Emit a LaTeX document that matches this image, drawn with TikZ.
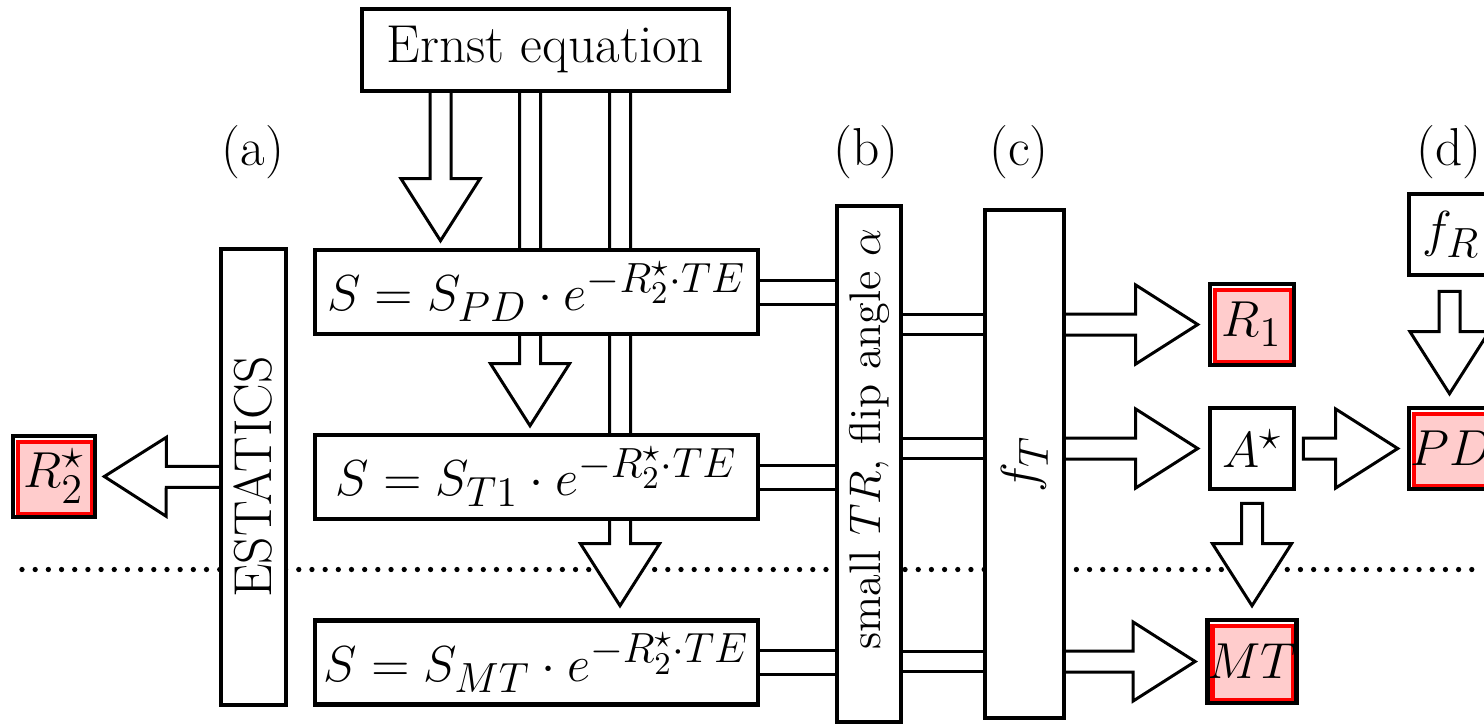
\RequirePackage{fix-cm}
\documentclass[tikz,border=0pt]{standalone}
\usepackage{amsmath}
\usepackage{amssymb}
\usepackage{graphicx}
\usepackage{tikz}
\usetikzlibrary{calc}
\definecolor{resfill}{HTML}{FFCCCC}
\definecolor{resline}{HTML}{FF0000}
\DeclareMathSizes{15.2}{14.4}{12}{9}
\pgfdeclarelayer{back}
\pgfdeclarelayer{mid}
\pgfsetlayers{back,mid,main}
\newcommand{\mainsize}{\fontsize{15.2}{18}\selectfont}
\newcommand{\shaftw}{0.105cm}
\newcommand{\headw}{0.395cm}
\newcommand{\headl}{0.62cm}
% hollow block arrow from #1 to the tip #2
\newcommand{\fatarrow}[2]{%
  \path[fatarr] let \p1=(#1), \p2=(#2), \n1={veclen(\x2-\x1,\y2-\y1)}, \n2={atan2(\y2-\y1,\x2-\x1)} in
    [shift={(\p1)}, rotate=\n2] (0pt,-\shaftw) -- (\n1-\headl,-\shaftw) -- (\n1-\headl,-\headw) -- (\n1,0pt)
    -- (\n1-\headl,\headw) -- (\n1-\headl,\shaftw) -- (0pt,\shaftw) -- cycle;}
% hollow pipe (no head) from #1 to #2, half width #3
\newcommand{\fatpipe}[3]{%
  \path[fatarr] let \p1=(#1), \p2=(#2), \n1={veclen(\x2-\x1,\y2-\y1)}, \n2={atan2(\y2-\y1,\x2-\x1)} in
    [shift={(\p1)}, rotate=\n2] (0pt,-#3) -- (\n1,-#3) -- (\n1,#3) -- (0pt,#3) -- cycle;}
\tikzset{
  box/.style={draw, line width=1.3pt, fill=white, inner sep=0pt, font=\mainsize},
  result/.style={box, path picture={\draw[resline, fill=resfill, line width=1.4pt]
      ($(path picture bounding box.south west)+(0.05,0.03)$) rectangle
      ($(path picture bounding box.north east)+(-0.03,-0.06)$);}},
  fatarr/.style={draw, fill=white, line width=0.85pt, line join=miter},
  lbl/.style={font=\mainsize, inner sep=0pt},
  dotline/.style={line width=1.5pt, line cap=round, dash pattern=on 0pt off 3.75pt}
}

\begin{document}
\begin{tikzpicture}
  \useasboundingbox (0,0) rectangle (14.84,7.26);
  % blocks
  \node[box, minimum width=3.67cm, minimum height=0.82cm] (ernst) at (5.455,6.76) {Ernst equation};
  \node[box, minimum width=0.65cm, minimum height=4.56cm] (estatics) at (2.535,2.49) {\rotatebox{90}{ESTATICS}};
  \node[box, minimum width=4.43cm, minimum height=0.84cm] (spd) at (5.365,4.34) {$S=S_{PD}\cdot e^{-R_2^{\star}\cdot TE}$};
  \node[box, minimum width=4.43cm, minimum height=0.84cm] (st1) at (5.365,2.49) {$S=S_{T1}\cdot e^{-R_2^{\star}\cdot TE}$};
  \node[box, minimum width=4.43cm, minimum height=0.84cm] (smt) at (5.365,0.635) {$S=S_{MT}\cdot e^{-R_2^{\star}\cdot TE}$};
  \node[box, minimum width=0.64cm, minimum height=5.16cm] (flip) at (8.69,2.62)
    {\rotatebox{90}{\fontsize{12.6}{15}\selectfont\hspace*{0.5cm}small $TR$, flip angle $\alpha$}};
  \node[box, minimum width=0.79cm, minimum height=5.08cm] (ft) at (10.245,2.62) {\rotatebox{90}{$f_T$}};
  \node[result, minimum width=0.84cm, minimum height=0.81cm] (r1) at (12.52,4.015) {$R_1$};
  \node[box, minimum width=0.84cm, minimum height=0.81cm] (astar) at (12.52,2.775) {$A^{\star}$};
  \node[result, minimum width=0.84cm, minimum height=0.83cm] (mt) at (12.52,0.645) {$MT$};
  \node[result, minimum width=0.84cm, minimum height=0.81cm] (pd) at (14.51,2.775) {$PD$};
  \node[box, minimum width=0.84cm, minimum height=0.81cm] (fr) at (14.51,4.915) {$f_R$};
  \node[result, minimum width=0.82cm, minimum height=0.81cm] (r2s) at (0.54,2.495) {$R_2^{\star}$};
  % labels
  \node[lbl] (la) at (2.53,5.74) {(a)};
  \node[lbl] (lb) at (8.66,5.74) {(b)};
  \node[lbl] (lc) at (10.19,5.74) {(c)};
  \node[lbl] (ld) at (14.49,5.74) {(d)};
  % separator
  \begin{pgfonlayer}{back}
    \draw[dotline] (0.22,1.565) -- (14.84,1.565);
  \end{pgfonlayer}
  % arrows
  \begin{pgfonlayer}{mid}
    \fatarrow{$(ernst.south)+(-1.05,0.08)$}{$(spd.north)+(-0.96,0.07)$}
    \fatarrow{$(ernst.south)+(-0.155,0.08)$}{$(st1.north)+(-0.065,0.07)$}
    \fatarrow{$(ernst.south)+(0.745,0.08)$}{$(smt.north)+(0.835,0.125)$}
    \fatpipe{$(spd.east)+(-0.1,0)$}{$(flip.west |- spd)+(0.1,0)$}{0.12cm}
    \fatpipe{$(st1.east)+(-0.1,0)$}{$(flip.west |- st1)+(0.1,0)$}{0.12cm}
    \fatpipe{$(smt.east)+(-0.1,0)$}{$(flip.west |- smt)+(0.1,0)$}{0.12cm}
    \fatpipe{$(flip.east |- r1)+(-0.1,0)$}{$(ft.west |- r1)+(0.1,0)$}{0.1cm}
    \fatpipe{$(flip.east |- astar)+(-0.1,0)$}{$(ft.west |- astar)+(0.1,0)$}{0.1cm}
    \fatpipe{$(flip.east |- mt)+(-0.1,0)$}{$(ft.west |- mt)+(0.1,0)$}{0.1cm}
    \fatarrow{$(ft.east |- r1)+(-0.1,0)$}{$(r1.west)+(-0.1,0)$}
    \fatarrow{$(ft.east |- astar)+(-0.1,0)$}{$(astar.west)+(-0.1,0)$}
    \fatarrow{$(ft.east |- mt)+(-0.1,0)$}{$(mt.west)+(-0.1,0)$}
    \fatarrow{$(astar.east)+(0.07,0)$}{$(pd.west)+(-0.09,0)$}
    \fatarrow{$(astar.south)+(0,-0.12)$}{$(mt.north)+(0,0.12)$}
    \fatarrow{$(fr.south)+(-0.015,-0.14)$}{$(pd.north)+(-0.015,0.12)$}
    \fatarrow{$(estatics.west)+(0.1,0)$}{$(r2s.east)+(0.07,0)$}
  \end{pgfonlayer}
\end{tikzpicture}
\end{document}
